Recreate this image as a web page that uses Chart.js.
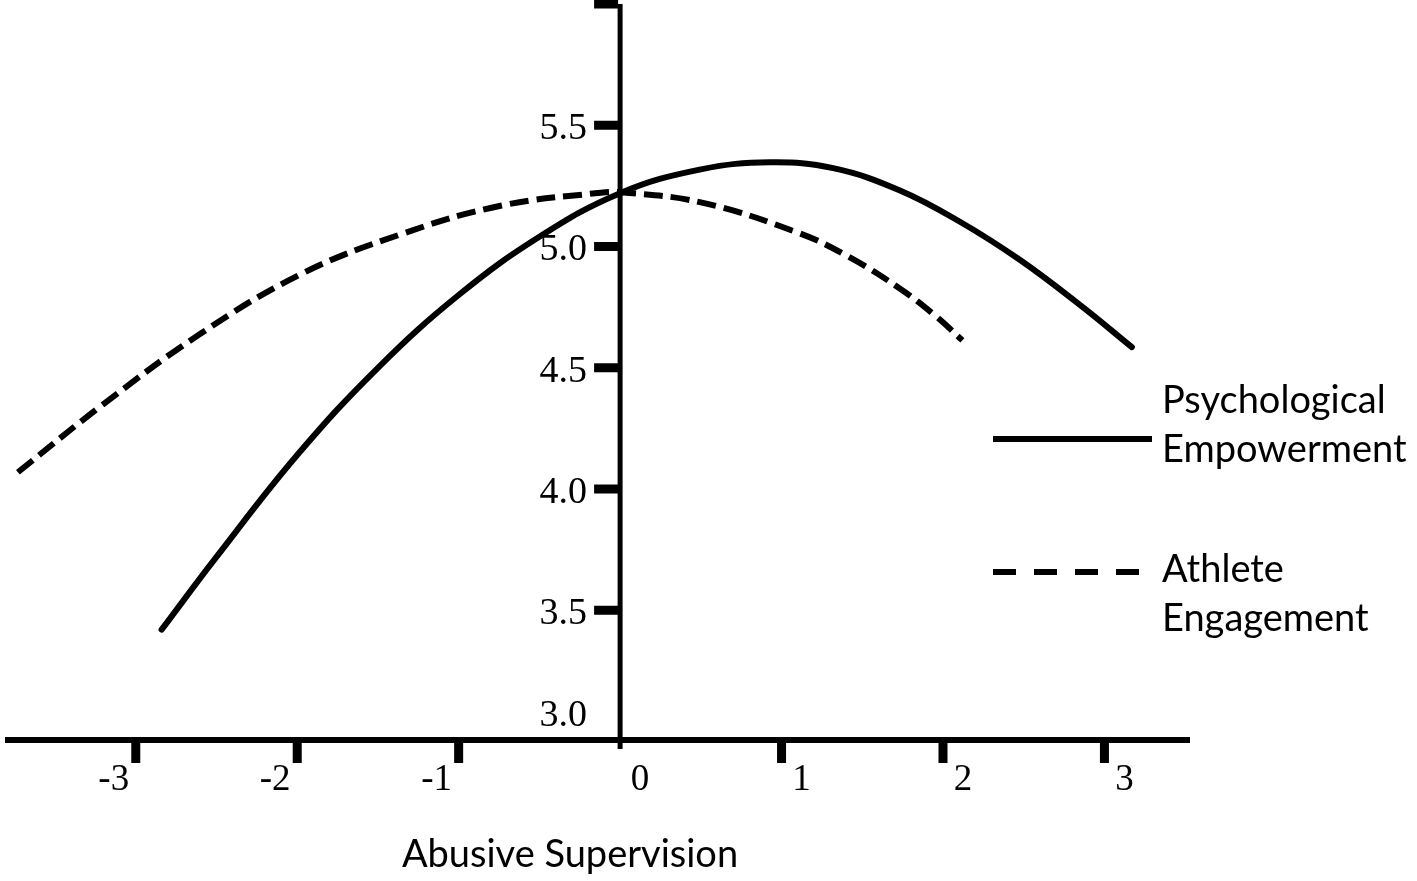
<!DOCTYPE html>
<html>
<head>
<meta charset="utf-8">
<script src="https://cdn.jsdelivr.net/npm/chart.js@4.4.1/dist/chart.umd.min.js"></script>
<style>
  html, body { margin: 0; padding: 0; background: #fff; }
</style>
</head>
<body>
<canvas id="myChart" width="1417" height="881"></canvas>
<script>
// values (abusive supervision -> outcome)
const empX = [-2.84, -2.50, -2.00, -1.50, -1.00, -0.50, 0, 0.50, 0.93, 1.32, 1.73, 2.11, 2.48, 2.85, 3.17];
const empY = [3.420, 3.720, 4.140, 4.500, 4.800, 5.040, 5.220, 5.318, 5.347, 5.323, 5.232, 5.100, 4.943, 4.758, 4.585];

const engX = [-3.73, -3.22, -2.60, -1.98, -1.36, -0.74, -0.12, 0, 0.50, 1.11, 1.42, 1.73, 1.95, 2.12];
const engY = [4.069, 4.340, 4.640, 4.885, 5.050, 5.168, 5.222, 5.224, 5.182, 5.055, 4.956, 4.828, 4.716, 4.613];

const xTicks = [-3, -2, -1, 0, 1, 2, 3];
const yTicks = [3.5, 4.0, 4.5, 5.0, 5.5, 6.0];
const yLabels = ["3.0", "3.5", "4.0", "4.5", "5.0", "5.5"];
const legendItems = [
  { lines: ["Psychological", "Empowerment"], dash: [] },
  { lines: ["Athlete", "Engagement"], dash: [23, 18] }
];
const xTitle = "Abusive Supervision";

function toPoints(xs, ys) {
  return xs.map((x, i) => ({ x: x, y: ys[i] }));
}

// axes, ticks, labels and legend drawn by hand like the original figure
const axesPlugin = {
  id: 'handAxes',
  beforeDatasetsDraw(chart) {
    const ctx = chart.ctx;
    const xs = chart.scales.x, ys = chart.scales.y;
    const area = chart.chartArea;
    const x0 = xs.getPixelForValue(0);
    const yBase = area.bottom;

    ctx.save();
    ctx.fillStyle = '#000';
    ctx.strokeStyle = '#000';
    ctx.lineCap = 'butt';

    // x axis line
    ctx.lineWidth = 6;
    ctx.beginPath();
    ctx.moveTo(area.left, yBase);
    ctx.lineTo(area.right, yBase);
    ctx.stroke();

    // y axis line through x = 0
    ctx.lineWidth = 5;
    ctx.beginPath();
    ctx.moveTo(x0, area.top);
    ctx.lineTo(x0, yBase + 9);
    ctx.stroke();

    // y tick marks (left of axis)
    yTicks.forEach(v => {
      const py = ys.getPixelForValue(v);
      ctx.fillRect(x0 - 26, py - 4.5, 24, 9);
    });

    // x tick marks (below axis)
    xTicks.forEach(v => {
      if (v === 0) return;
      const px = xs.getPixelForValue(v);
      ctx.fillRect(px - 4.5, yBase, 9, 23);
    });

    // y labels
    ctx.font = '38px "Liberation Serif", "DejaVu Serif", serif';
    ctx.textAlign = 'right';
    ctx.textBaseline = 'middle';
    yLabels.forEach(t => {
      let py = ys.getPixelForValue(parseFloat(t));
      py = Math.min(py, yBase - 28);
      ctx.fillText(t, x0 - 33, py + 4);
    });

    // x labels
    ctx.font = '37px "Liberation Serif", "DejaVu Serif", serif';
    ctx.textAlign = 'center';
    xTicks.forEach(v => {
      const px = xs.getPixelForValue(v);
      ctx.fillText(String(v), px + (v < 0 ? -22 : 20), yBase + 40);
    });

    // axis title
    ctx.font = '38px Lato, "Open Sans", sans-serif';
    ctx.textAlign = 'center';
    ctx.textBaseline = 'alphabetic';
    ctx.fillText(xTitle, 570, 867);

    // legend
    ctx.textAlign = 'left';
    legendItems.forEach((item, i) => {
      const base = 413 + i * 169;
      const ly = i === 0 ? 439 : 572;
      ctx.lineWidth = 6;
      ctx.setLineDash(item.dash);
      ctx.beginPath();
      ctx.moveTo(993, ly);
      ctx.lineTo(i === 0 ? 1152 : 1141, ly);
      ctx.stroke();
      ctx.setLineDash([]);
      ctx.fillText(item.lines[0], 1162, base);
      ctx.fillText(item.lines[1], 1162, base + 49);
    });

    ctx.restore();
  }
};

const chart = new Chart(document.getElementById('myChart'), {
  type: 'scatter',
  data: {
    datasets: [
      {
        label: 'Psychological Empowerment',
        data: toPoints(empX, empY),
        showLine: true,
        borderColor: '#000',
        borderWidth: 6,
        pointRadius: 0,
        tension: 0.4,
        borderCapStyle: 'round'
      },
      {
        label: 'Athlete Engagement',
        data: toPoints(engX, engY),
        showLine: true,
        borderColor: '#000',
        borderWidth: 6,
        borderDash: [19, 8],
        pointRadius: 0,
        tension: 0.4
      }
    ]
  },
  options: {
    responsive: false,
    animation: false,
    layout: { padding: { left: 5, right: 227, top: 4, bottom: 141 } },
    scales: {
      x: { type: 'linear', min: -3.81, max: 3.53, display: false },
      y: { type: 'linear', min: 2.965, max: 6.0, display: false }
    },
    plugins: {
      legend: { display: false },
      tooltip: { enabled: false }
    }
  },
  plugins: [axesPlugin]
});
</script>
</body>
</html>
